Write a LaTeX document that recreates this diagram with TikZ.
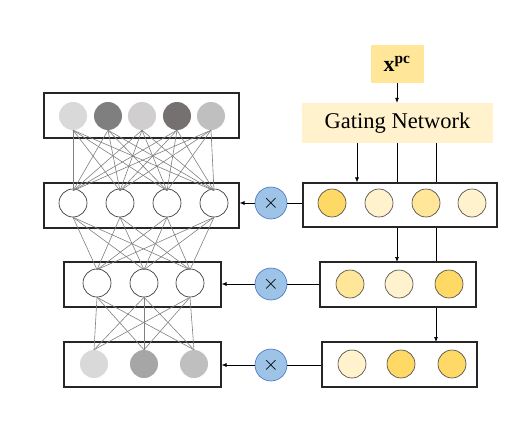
\documentclass[tikz,border=0pt]{standalone}
\usepackage{fontspec}
\setmainfont{Liberation Serif}
\usetikzlibrary{arrows.meta}
\definecolor{ystrong}{HTML}{FFD966}
\definecolor{ymed}{HTML}{FFE699}
\definecolor{ylight}{HTML}{FFF2CC}
\definecolor{boxc}{HTML}{262626}
\definecolor{mulfill}{HTML}{9DC3E6}
\definecolor{mulborder}{HTML}{4472C4}
\definecolor{connc}{HTML}{808080}
\begin{document}
\begin{tikzpicture}[x=1pt,y=-1pt,
  box/.style={draw=boxc, line width=1.1pt, fill=white, rectangle, inner sep=0pt},
  neuron/.style={circle, draw=black!85, line width=0.6pt, fill=white, minimum size=28pt, inner sep=0pt},
  gneuron/.style={circle, minimum size=28pt, inner sep=0pt},
  yneuron/.style={circle, draw=black!75, line width=0.6pt, minimum size=28pt, inner sep=0pt},
  mult/.style={circle, fill=mulfill, draw=mulborder, line width=0.6pt, minimum size=32pt, inner sep=0pt, font=\fontsize{20}{20}\selectfont},
  conn/.style={draw=connc, line width=0.6pt},
  arr/.style={-{Latex[length=5pt,width=4pt]}, line width=0.7pt, draw=black}]
\useasboundingbox (0,0) rectangle (531,431);

% gating inputs
\node[fill=ymed, minimum width=53pt, minimum height=38pt, inner sep=0pt, font=\fontsize{22}{22}\selectfont] (X) at (397,64) {\textbf{x}\textsuperscript{\textbf{pc}}};
\node[fill=ylight, minimum width=191pt, minimum height=40pt, inner sep=0pt, font=\fontsize{22.5}{22.5}\selectfont] (G) at (397.5,123) {Gating Network};
\draw[arr] (X.south) -- (X.south |- G.north);

% coordinates for gating outputs
\coordinate (ga) at (357,143);
\coordinate (gb) at (397,143);
\coordinate (gc) at (436,143);

% vertical lines behind boxes
\draw[arr] (gc) -- (436,342);
\draw[arr] (gb) -- (397,262);

% right boxes
\node[box, minimum width=194pt, minimum height=44pt] (R1) at (400,205) {};
\node[box, minimum width=156pt, minimum height=45pt] (R2) at (398,284.5) {};
\node[box, minimum width=155pt, minimum height=45pt] (R3) at (399.5,364.5) {};
\draw[arr] (ga) -- (ga |- R1.north);

\node[yneuron, fill=ystrong] (r11) at (332,203) {};
\node[yneuron, fill=ylight] (r12) at (379,203) {};
\node[yneuron, fill=ymed] (r13) at (426,203) {};
\node[yneuron, fill=ylight] (r14) at (472,203) {};

\node[yneuron, fill=ymed] (r21) at (350,284) {};
\node[yneuron, fill=ylight] (r22) at (399,284) {};
\node[yneuron, fill=ystrong] (r23) at (449,284) {};

\node[yneuron, fill=ylight] (r31) at (352,364) {};
\node[yneuron, fill=ystrong] (r32) at (401,364) {};
\node[yneuron, fill=ystrong] (r33) at (452,364) {};

% left boxes
\node[box, minimum width=195pt, minimum height=45pt] (L1) at (141.5,115.5) {};
\node[box, minimum width=195pt, minimum height=45pt] (L2) at (141.5,205.5) {};
\node[box, minimum width=157pt, minimum height=45pt] (L3) at (142.5,284.5) {};
\node[box, minimum width=157pt, minimum height=45pt] (L4) at (142.5,364.5) {};

% neurons
\node[gneuron, fill={rgb,255:red,217;green,217;blue,217}] (a1) at (73,116) {};
\node[gneuron, fill={rgb,255:red,127;green,127;blue,127}] (a2) at (108,116) {};
\node[gneuron, fill={rgb,255:red,208;green,206;blue,206}] (a3) at (142,116) {};
\node[gneuron, fill={rgb,255:red,118;green,113;blue,113}] (a4) at (177,116) {};
\node[gneuron, fill={rgb,255:red,191;green,191;blue,191}] (a5) at (211,116) {};

\node[neuron] (b1) at (73,203) {};
\node[neuron] (b2) at (120,203) {};
\node[neuron] (b3) at (167,203) {};
\node[neuron] (b4) at (214,203) {};

\node[neuron] (c1) at (97,283) {};
\node[neuron] (c2) at (144,283) {};
\node[neuron] (c3) at (190,283) {};

\node[gneuron, fill={rgb,255:red,217;green,217;blue,217}] (d1) at (94,364) {};
\node[gneuron, fill={rgb,255:red,166;green,166;blue,166}] (d2) at (144,364) {};
\node[gneuron, fill={rgb,255:red,191;green,191;blue,191}] (d3) at (194,364) {};

% connections
\foreach \i in {1,...,5}{\foreach \j in {1,...,4}{\draw[conn] (a\i.south) -- ([yshift=-2pt]b\j.north);}}
\foreach \i in {1,...,4}{\foreach \j in {1,...,3}{\draw[conn] (b\i.south) -- ([yshift=-1pt]c\j.north);}}
\foreach \i in {1,...,3}{\foreach \j in {1,...,3}{\draw[conn] (c\i.south) -- (d\j.north);}}

% multiply nodes
\node[mult] (m1) at (271,203) {$\times$};
\node[mult] (m2) at (271,284) {$\times$};
\node[mult] (m3) at (271,365) {$\times$};

\draw[line width=0.7pt] (R1.west |- m1) -- (m1);
\draw[arr] (m1) -- (L1.east |- m1) ;
\draw[line width=0.7pt] (R2.west |- m2) -- (m2);
\draw[arr] (m2) -- (L3.east |- m2);
\draw[line width=0.7pt] (R3.west |- m3) -- (m3);
\draw[arr] (m3) -- (L4.east |- m3);
\end{tikzpicture}
\end{document}
